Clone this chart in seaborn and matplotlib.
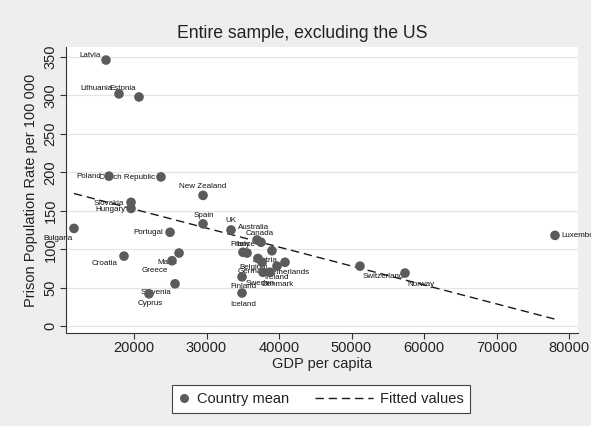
import numpy as np
import pandas as pd
import matplotlib
matplotlib.use("Agg")
import matplotlib.pyplot as plt
from matplotlib.legend_handler import HandlerLine2D
from matplotlib.lines import Line2D
import seaborn as sns

# Country means: GDP per capita and prison population rate per 100 000
countries = ["Latvia", "Lithuania", "Estonia", "Poland", "Czech Republic",
             "New Zealand", "Slovakia", "Hungary", "Spain", "UK", "Portugal",
             "Bulgaria", "Croatia", "Malta", "Greece", "Slovenia", "Cyprus",
             "Australia", "Canada", "France", "Italy", "Austria", "Belgium",
             "Germany", "Netherlands", "Ireland", "Sweden", "Denmark",
             "Finland", "Iceland", "Switzerland", "Norway", "Luxembourg"]
gdp = [16140, 17930, 20690, 16550, 23720,
       29520, 19590, 19590, 29520, 33380, 24970,
       11720, 18620, 26210, 25240, 25660, 22070,
       36970, 37520, 35030, 35590, 39030, 37100,
       37660, 40830, 39720, 37790, 38760,
       34900, 34900, 51170, 57380, 78070]
prison = [346, 302, 298, 195, 194,
          170, 161, 153, 133, 125, 122,
          127, 91, 95, 85, 55, 42,
          112, 109, 96, 95, 98, 88,
          83, 83, 78, 70, 70,
          64, 43, 78, 69, 118]

y_ticks = [0, 50, 100, 150, 200, 250, 300, 350]
x_ticks = [20000, 30000, 40000, 50000, 60000, 70000, 80000]

df = pd.DataFrame({"country": countries, "gdp": gdp, "prison": prison})

# label placement (offset of label centre from its marker, in pixels; +dy = down)
label_offsets = {
    "Latvia": (-16, -5), "Lithuania": (-22, -5), "Estonia": (-16, -8),
    "Poland": (-20, 0), "Czech Republic": (-34, 1), "New Zealand": (0, -9),
    "Slovakia": (-22, 1), "Hungary": (-21, 1), "Spain": (1, -8),
    "UK": (0, -9), "Portugal": (-22, 0), "Bulgaria": (-16, 10),
    "Croatia": (-19, 7), "Malta": (-12, 9), "Greece": (-17, 10),
    "Slovenia": (-19, 9), "Cyprus": (1, 10), "Australia": (-3, -12),
    "Canada": (-1, -9), "France": (0, -8), "Italy": (-4, -9),
    "Austria": (-7, 10), "Belgium": (-4, 9), "Germany": (-8, 9),
    "Netherlands": (3, 10), "Ireland": (0, 11), "Sweden": (-3, 11),
    "Denmark": (7, 12), "Finland": (1, 10), "Iceland": (1, 11),
    "Switzerland": (23, 10), "Norway": (16, 11), "Luxembourg": (28, 0),
}

sns.set_style("white")
plt.rcParams["font.family"] = ["Liberation Sans", "DejaVu Sans"]

BG = "#eeeeee"
PT = "#5b5b5b"
INK = "#222222"

fig = plt.figure(figsize=(5.91, 4.26), dpi=100, facecolor=BG)
ax = fig.add_axes([66 / 591, 1 - 333 / 426, 512 / 591, 286 / 426])
ax.set_facecolor("white")

for yv in y_ticks:
    ax.axhline(yv, color="#e4e4e4", lw=0.9, zorder=0)

sns.scatterplot(data=df, x="gdp", y="prison", ax=ax, color=PT, s=48,
                edgecolor="none", zorder=4, label="Country mean", legend=False)
sns.regplot(data=df, x="gdp", y="prison", ax=ax, scatter=False, ci=None,
            truncate=True,
            line_kws=dict(color="#1a1a1a", lw=1.0, ls=(0, (6, 3.5)), zorder=3))

for name, xv, yv in zip(countries, gdp, prison):
    dx, dy = label_offsets[name]
    ax.annotate(name, (xv, yv), xytext=(dx, -dy), textcoords="offset pixels",
                ha="center", va="center", fontsize=5.8, color="#111111",
                zorder=2, annotation_clip=False)

ax.set_xlim(10620, 81240)
ax.set_ylim(-9, 363)
ax.set_xticks(x_ticks)
ax.set_yticks(y_ticks)
ax.set_xticklabels([str(v) for v in x_ticks])
ax.set_yticklabels([str(v) for v in y_ticks], rotation=90, va="center")

for side in ["top", "right"]:
    ax.spines[side].set_visible(False)
for side in ["left", "bottom"]:
    ax.spines[side].set_color("#333333")
    ax.spines[side].set_linewidth(0.8)
ax.tick_params(axis="both", which="major", direction="out", length=4,
               width=0.8, color="#333333", labelsize=10.5, labelcolor=INK,
               pad=2)
ax.tick_params(axis="x", bottom=True)
ax.tick_params(axis="y", left=True)

ax.set_xlabel("GDP per capita", fontsize=10.5, color=INK, labelpad=1)
ax.set_ylabel("Prison Population Rate per 100 000", fontsize=10.5,
              color=INK, labelpad=4)

fig.text(302 / 591, 1 - 33 / 426, "Entire sample, excluding the US",
         ha="center", va="center", fontsize=12.7, color=INK)


class MarkerHandler(HandlerLine2D):
    pass


class LongDashHandler(HandlerLine2D):
    """Dashed handle that reaches further to the left than the handle box."""
    def get_xdata(self, legend, xdescent, ydescent, width, height, fontsize):
        xdata = np.array([-xdescent - 3.15 * fontsize, -xdescent + width])
        return xdata, xdata


h_pts = Line2D([], [], ls="none", marker="o", color=PT, markersize=6.5,
               markeredgewidth=0)
h_fit = Line2D([], [], color="#1a1a1a", lw=1.0, ls=(0, (6, 3.5)))
leg = fig.legend([h_pts, h_fit], ["Country mean", "Fitted values"],
                 loc="center", bbox_to_anchor=(321 / 591, 1 - 399 / 426),
                 ncol=2, fontsize=10.5, frameon=True, fancybox=False,
                 edgecolor="#444444", facecolor="white", framealpha=1,
                 handlelength=0.8, handletextpad=0.5, columnspacing=4.9,
                 borderpad=0.45, handler_map={h_fit: LongDashHandler()})
leg.get_frame().set_linewidth(0.8)
for t in leg.get_texts():
    t.set_color(INK)

fig.savefig("out.png", dpi=100, facecolor=BG)
